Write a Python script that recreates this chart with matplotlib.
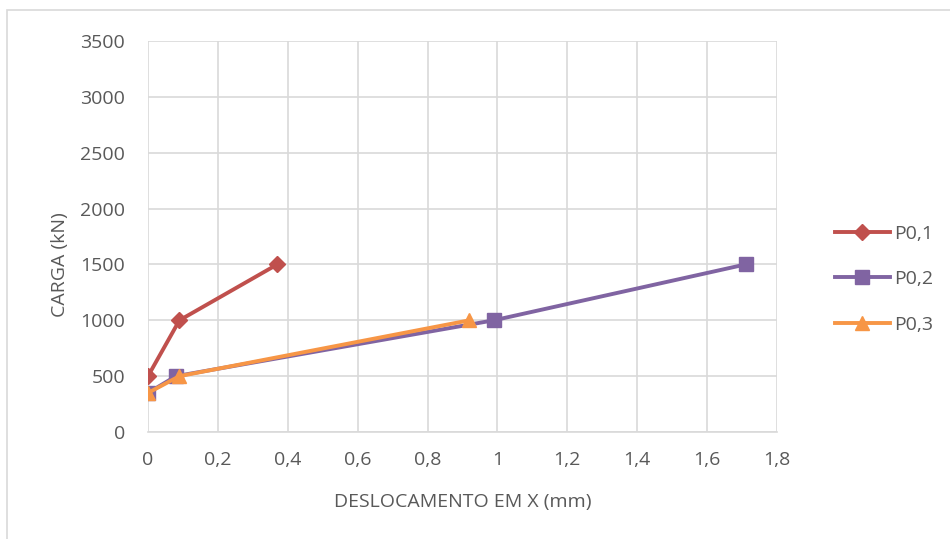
import matplotlib.pyplot as plt
from matplotlib.patches import Rectangle
from matplotlib.ticker import MultipleLocator, FuncFormatter

plt.rcParams['font.family'] = ['Open Sans', 'DejaVu Sans']

# deslocamento em X (mm) x carga (kN)
x_p01 = [0.0, 0.09, 0.37]
y_p01 = [500, 1000, 1500]
x_p02 = [0.0, 0.08, 0.99, 1.71]
y_p02 = [350, 500, 1000, 1500]
x_p03 = [0.0, 0.09, 0.92]
y_p03 = [350, 500, 1000]

labels = ['P0,1', 'P0,2', 'P0,3']
colors = ['#C0504D', '#8064A2', '#F79646']
text_color = '#595959'
grid_color = '#D9D9D9'
fs = 14

fig = plt.figure(figsize=(9.5, 5.39), dpi=100)
ax = fig.add_axes([148 / 950, 107 / 539, 629 / 950, 391 / 539])

# borda da area do grafico
fig.patches.append(Rectangle((7 / 950, -0.1), 1.2, 0.1 + 529 / 539, transform=fig.transFigure,
                             fill=False, edgecolor=grid_color, linewidth=1.2))

ax.plot(x_p01, y_p01, color=colors[0], lw=2.8, marker='D', ms=8.5, label=labels[0], zorder=3)
ax.plot(x_p02, y_p02, color=colors[1], lw=2.8, marker='s', ms=10, label=labels[1], zorder=3)
ax.plot(x_p03, y_p03, color=colors[2], lw=2.8, marker='^', ms=10.5, label=labels[2], zorder=4)

ax.set_xlim(0, 1.8)
ax.set_ylim(0, 3500)
ax.xaxis.set_major_locator(MultipleLocator(0.2))
ax.yaxis.set_major_locator(MultipleLocator(500))
ax.xaxis.set_major_formatter(FuncFormatter(lambda v, p: ('%g' % round(v, 1)).replace('.', ',')))
ax.grid(True, color=grid_color, lw=1.2)
ax.set_axisbelow(True)
for s in ['top', 'right', 'left']:
    ax.spines[s].set_visible(False)
ax.spines['bottom'].set_color(grid_color)
ax.spines['bottom'].set_linewidth(1.2)
ax.tick_params(length=0, labelsize=fs, colors=text_color)
ax.tick_params(axis='x', pad=14)
ax.tick_params(axis='y', pad=16.5)

ax.set_xlabel('DESLOCAMENTO EM X (mm)', fontsize=fs, color=text_color)
ax.set_ylabel('CARGA (kN)', fontsize=fs, color=text_color)
ax.xaxis.set_label_coords(0.5, -0.155)
ax.yaxis.set_label_coords(-0.126, 0.427)

leg = ax.legend(loc='center left', bbox_to_anchor=(1.064, 0.391), frameon=False,
                fontsize=fs, labelcolor=text_color, handlelength=2.83, labelspacing=1.42,
                handletextpad=0.2)

fig.savefig('out.png', dpi=100)
